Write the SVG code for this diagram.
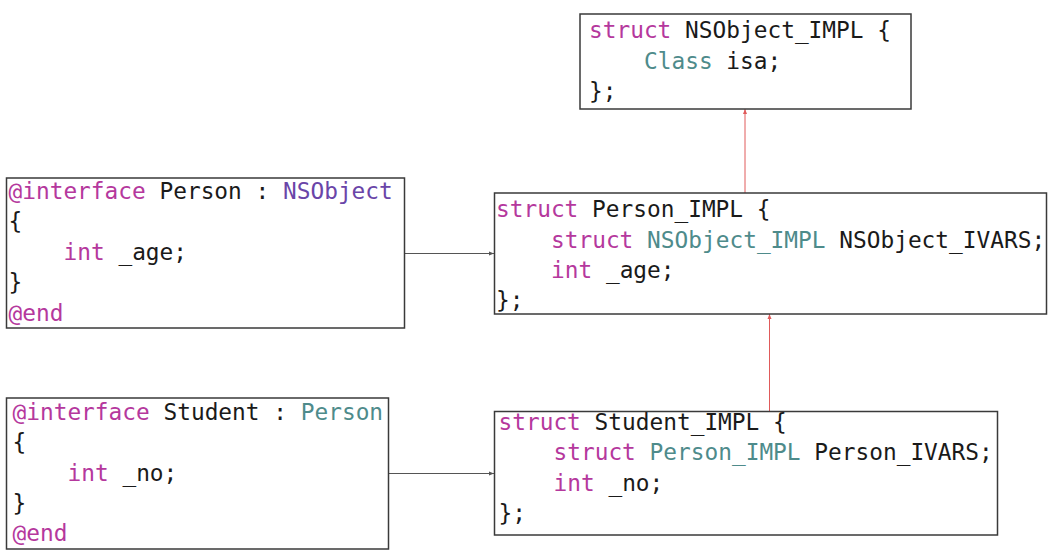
<svg xmlns="http://www.w3.org/2000/svg" width="1056" height="554" viewBox="0 0 1056 554">
<style>
.box{fill:#ffffff;stroke:#3a3a3a;stroke-width:1.5}
.code{font-family:"DejaVu Sans Mono","Liberation Mono",monospace;font-size:22.8px;fill:#1a1a1a}
.kw{fill:#b5389d}
.ty{fill:#4e8b8b}
.sys{fill:#6a45a8}
.link{fill:none;stroke:#555555;stroke-width:1}
.red{fill:none;stroke:#e05a5a;stroke-width:1}
</style>
<defs>
<marker id="ah" markerUnits="userSpaceOnUse" markerWidth="6" markerHeight="6" refX="5" refY="3" orient="auto">
<path d="M0,1 L5,3 L0,5 Z" fill="#555555"/>
</marker>
<marker id="ahr" markerUnits="userSpaceOnUse" markerWidth="6" markerHeight="6" refX="5" refY="3" orient="auto">
<path d="M0,1 L5,3 L0,5 Z" fill="#e05a5a"/>
</marker>
</defs>
<rect width="1056" height="554" fill="#ffffff"/>
<g id="connectors">
<line class="link" x1="405" y1="253.5" x2="494" y2="253.5" marker-end="url(#ah)"/>
<line class="link" x1="388" y1="473.5" x2="494" y2="473.5" marker-end="url(#ah)"/>
<line class="red" x1="745" y1="225" x2="745" y2="109" marker-end="url(#ahr)"/>
<line class="red" x1="769.5" y1="435" x2="769.5" y2="314" marker-end="url(#ahr)"/>
</g>
<g id="nsobject-impl">
<rect class="box" x="580" y="14" width="331" height="95"/>
<text class="code" x="589" y="37.5"><tspan class="kw">struct</tspan> NSObject_IMPL {</text>
<text class="code" x="644" y="68.5"><tspan class="ty">Class</tspan> isa;</text>
<text class="code" x="589" y="99">};</text>
</g>
<g id="person-interface">
<rect class="box" x="6.5" y="178" width="398" height="150"/>
<text class="code" x="8.5" y="198.5"><tspan class="kw">@interface</tspan> Person : <tspan class="sys">NSObject</tspan></text>
<text class="code" x="8.5" y="229">{</text>
<text class="code" x="63.5" y="260"><tspan class="kw">int</tspan> _age;</text>
<text class="code" x="8.5" y="290">}</text>
<text class="code" x="8.5" y="321"><tspan class="kw">@end</tspan></text>
</g>
<g id="person-impl">
<rect class="box" x="494.5" y="193" width="552" height="121"/>
<text class="code" x="496" y="217"><tspan class="kw">struct</tspan> Person_IMPL {</text>
<text class="code" x="551" y="247.5"><tspan class="kw">struct</tspan> <tspan class="ty">NSObject_IMPL</tspan> NSObject_IVARS;</text>
<text class="code" x="551" y="277.5"><tspan class="kw">int</tspan> _age;</text>
<text class="code" x="496" y="307.5">};</text>
</g>
<g id="student-interface">
<rect class="box" x="6.5" y="398" width="382" height="151"/>
<text class="code" x="12.5" y="419.5"><tspan class="kw">@interface</tspan> Student : <tspan class="ty">Person</tspan></text>
<text class="code" x="12.5" y="450">{</text>
<text class="code" x="67.5" y="481"><tspan class="kw">int</tspan> _no;</text>
<text class="code" x="12.5" y="511">}</text>
<text class="code" x="12.5" y="541"><tspan class="kw">@end</tspan></text>
</g>
<g id="student-impl">
<rect class="box" x="494.5" y="411.5" width="503" height="123.5"/>
<text class="code" x="498.5" y="429.5"><tspan class="kw">struct</tspan> Student_IMPL {</text>
<text class="code" x="553.5" y="460"><tspan class="kw">struct</tspan> <tspan class="ty">Person_IMPL</tspan> Person_IVARS;</text>
<text class="code" x="553.5" y="490.5"><tspan class="kw">int</tspan> _no;</text>
<text class="code" x="498.5" y="520.5">};</text>
</g>
</svg>
